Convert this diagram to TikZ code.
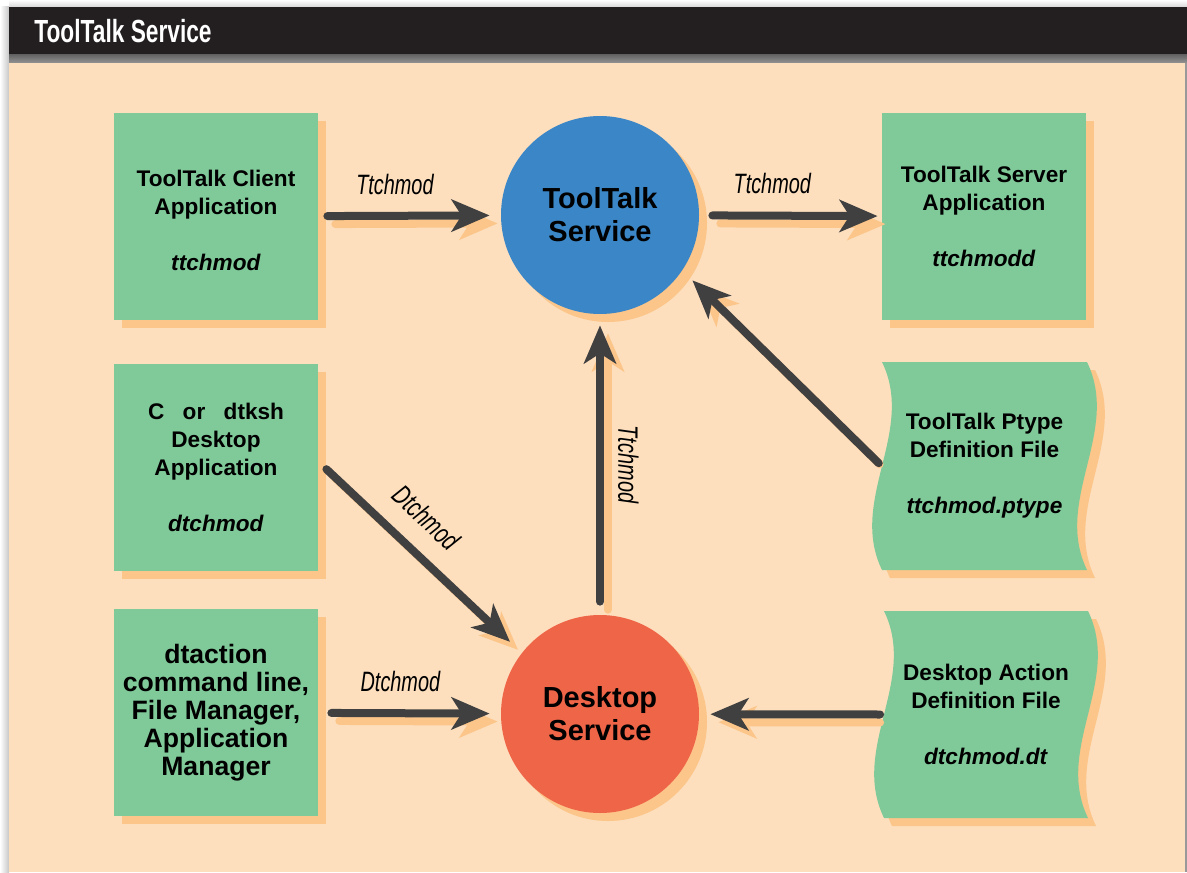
\documentclass[tikz,border=0pt]{standalone}
\usepackage{fontspec}
\setmainfont{Liberation Sans}
\newfontfamily\condfont[FakeStretch=0.71]{Liberation Sans}
\usetikzlibrary{arrows.meta,shadows}
\definecolor{panelpeach}{HTML}{FDDFBE}
\definecolor{boxgreen}{HTML}{80CA9A}
\definecolor{shadeorange}{HTML}{FCC589}
\definecolor{ttblue}{HTML}{3A86C6}
\definecolor{dsred}{HTML}{EF6548}
\definecolor{flowgray}{HTML}{404040}
\definecolor{titlebar}{HTML}{231F20}
\tikzset{
    shadowed/.style={drop shadow={shadow xshift=4pt, shadow yshift=-4pt, fill=shadeorange, opacity=1}},
    appbox/.style={fill=boxgreen, shadowed, minimum width=102pt, minimum height=103.5pt, inner sep=0pt, align=center, font=\fontsize{11.3}{14}\selectfont\bfseries},
    docbox/.style={minimum width=102.5pt, minimum height=104pt, inner sep=0pt, align=center, font=\fontsize{11.3}{14}\selectfont\bfseries},
    service/.style={circle, shadowed, minimum size=99pt, inner sep=0pt, align=center, font=\fontsize{14.5}{16.5}\selectfont\bfseries},
    flow/.style={line width=4pt, draw=flowgray, line cap=round, -{Stealth[length=19pt, width=16pt, inset=5pt]}},
    flowshadow/.style={flow, draw=shadeorange, transform canvas={shift={(4pt,-4pt)}}},
    lbl/.style={font=\condfont\itshape\fontsize{14}{14}\selectfont, inner sep=8.4pt},
}
\begin{document}
\begin{tikzpicture}[x=0.5pt, y=-0.5pt]
    \useasboundingbox (0,0) rectangle (1187,872);
    \fill[white] (0,0) rectangle (1187,872);
    \shade[left color=white, right color=black!22] (0,7) rectangle (9,872);
    \shade[top color=white, bottom color=black!15] (9,0) rectangle (1187,7);
    \fill[titlebar] (9,7) rectangle (1187,55);
    \shade[top color=black!60, bottom color=black!42] (9,55) rectangle (1187,63);
    \fill[panelpeach] (9,63) rectangle (1187,872);
    \draw[black!40, line width=1pt] (1185.5,63) -- (1185.5,872);

    \path (34,43) node[anchor=base west, inner sep=0pt, text=white, font=\condfont\bfseries\fontsize{16}{16}\selectfont] (title) {ToolTalk Service};

    \fill[boxgreen, shadowed] (882,362) .. controls +(17pt,-35pt) and +(-17pt,35pt) .. (882,570) -- (1087,570) .. controls +(-17pt,35pt) and +(17pt,-35pt) .. (1087,362) -- cycle;
    \fill[boxgreen, shadowed] (884,611) .. controls +(17pt,-35pt) and +(-17pt,35pt) .. (884,818) -- (1088,818) .. controls +(-17pt,35pt) and +(17pt,-35pt) .. (1088,611) -- cycle;

    \path (216, 216.5) node[appbox] (client)   {\rule{0pt}{12.5pt}ToolTalk Client\\Application\\[14pt]\textit{ttchmod}};
    \path (216, 467)   node[appbox] (dtksh)    {C\hspace{9.2pt}or\hspace{9.2pt}dtksh\\Desktop\\Application\\[14pt]\textit{dtchmod}};
    \path (216, 712.5) node[appbox, font=\fontsize{13.3}{14}\selectfont\bfseries] (dtaction) {dtaction\\command line,\\File Manager,\\Application\\Manager};
    \path (984, 216.5) node[appbox] (server)   {ToolTalk Server\\Application\\[14pt]\textit{ttchmodd}};
    \path (984.5, 466) node[docbox] (ptype)    {ToolTalk Ptype\\Definition File\\[14pt]\textit{ttchmod.ptype}};
    \path (986, 714.5) node[docbox] (action)   {Desktop Action\\Definition File\\[14pt]\textit{dtchmod.dt}};
    \path (600, 215)   node[service, fill=ttblue] (tooltalk) {ToolTalk\\Service};
    \path (600, 714)   node[service, fill=dsred]  (desktop)  {Desktop\\Service};

    \draw[flowshadow, shorten <=4.5pt, shorten >=5.5pt] (client) -- (tooltalk);
    \draw[flow, shorten <=4.5pt, shorten >=5.5pt] (client) -- node[lbl, pos=0.42, above] (ttc) {Ttchmod} (tooltalk);

    \draw[flowshadow, shorten <=6.5pt, shorten >=2pt] (tooltalk) -- (server);
    \draw[flow, shorten <=6.5pt, shorten >=2pt] (tooltalk) -- node[lbl, pos=0.4, above, inner sep=8.9pt] (tts) {Ttchmod} (server);

    \draw[flowshadow, shorten <=7pt, shorten >=7pt] (ptype.west) -- (tooltalk.-34);
    \draw[flow, shorten <=2pt, shorten >=7pt] (ptype.west) -- (tooltalk.-34);

    \draw[flowshadow, shorten <=6.5pt, shorten >=5.5pt] (desktop) -- (tooltalk);
    \draw[flow, shorten <=6.5pt, shorten >=5.5pt] (desktop) -- node[lbl, midway, rotate=-90, anchor=south, inner sep=7pt] (ttd) {Ttchmod} (tooltalk);

    \draw[flowshadow, shorten <=5.5pt, shorten >=8pt] (dtksh.3) -- (desktop.142);
    \draw[flow, shorten <=5.5pt, shorten >=8pt] (dtksh.3) -- node[lbl, pos=0.42, sloped, above, inner sep=9.4pt] (dtk) {Dtchmod} (desktop.142);

    \draw[flowshadow, shorten <=6.5pt, shorten >=5.5pt] (dtaction) -- (desktop);
    \draw[flow, shorten <=6.5pt, shorten >=5.5pt] (dtaction) -- node[lbl, pos=0.45, above, inner sep=8.9pt] (dta) {Dtchmod} (desktop);

    \draw[flowshadow, shorten <=5.5pt, shorten >=5.5pt] (action.west) -- (desktop);
    \draw[flow, shorten <=1.5pt, shorten >=5.5pt] (action.west) -- (desktop);
\end{tikzpicture}
\end{document}
